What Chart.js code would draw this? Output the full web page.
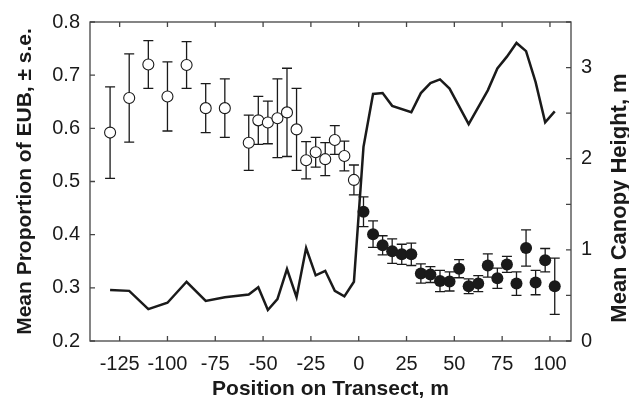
<!DOCTYPE html>
<html>
<head>
<meta charset="utf-8">
<title>EUB proportion and canopy height along transect</title>
<script src="https://cdn.jsdelivr.net/npm/chart.js@4/dist/chart.umd.min.js"></script>
<style>
  body { margin: 0; background: #fff; }
  #wrap { width: 629px; height: 402px; }
</style>
</head>
<body>
<div id="wrap"><canvas id="chart" width="629" height="402"></canvas></div>
<script>
// open circles (left of 0)
const openPos = [-130, -120, -110, -100, -90, -80, -70, -57.5, -52.5, -47.5, -42.5, -37.5, -32.5, -27.5, -22.5, -17.5, -12.5, -7.5, -2.5];
const openMean = [0.592, 0.657, 0.720, 0.660, 0.719, 0.638, 0.638, 0.573, 0.615, 0.611, 0.619, 0.630, 0.598, 0.540, 0.555, 0.542, 0.578, 0.548, 0.503];
const openSe = [0.086, 0.083, 0.045, 0.065, 0.044, 0.046, 0.055, 0.052, 0.045, 0.040, 0.074, 0.083, 0.077, 0.035, 0.028, 0.031, 0.027, 0.028, 0.028];

// filled circles (right of 0)
const filledPos = [2.5, 7.5, 12.5, 17.5, 22.5, 27.5, 32.5, 37.5, 42.5, 47.5, 52.5, 57.5, 62.5, 67.5, 72.5, 77.5, 82.5, 87.5, 92.5, 97.5, 102.5];
const filledMean = [0.443, 0.401, 0.380, 0.369, 0.363, 0.363, 0.327, 0.325, 0.313, 0.312, 0.336, 0.303, 0.308, 0.342, 0.318, 0.344, 0.308, 0.375, 0.310, 0.352, 0.303];
const filledSe = [0.028, 0.025, 0.018, 0.023, 0.019, 0.021, 0.018, 0.015, 0.020, 0.018, 0.017, 0.014, 0.015, 0.022, 0.019, 0.015, 0.022, 0.034, 0.023, 0.022, 0.053];

// canopy height line (right axis)
const heightPos = [-130, -120, -110, -100, -90, -80, -70, -57.5, -52.5, -47.5, -42.5, -37.5, -32.5, -27.5, -22.5, -17.5, -12.5, -7.5, -2.5, 2.5, 7.5, 12.5, 17.5, 27.5, 32.5, 37.5, 42.5, 47.5, 57.5, 67.5, 72.5, 77.5, 82.5, 87.5, 92.5, 97.5, 102.5];
const heights = [0.56, 0.55, 0.35, 0.42, 0.65, 0.44, 0.48, 0.51, 0.59, 0.34, 0.46, 0.79, 0.48, 1.02, 0.72, 0.77, 0.55, 0.49, 0.65, 2.13, 2.71, 2.72, 2.58, 2.51, 2.72, 2.83, 2.87, 2.77, 2.38, 2.75, 2.99, 3.12, 3.27, 3.18, 2.84, 2.40, 2.52];

// ticks
const xTicks = [-125, -100, -75, -50, -25, 0, 25, 50, 75, 100];
const leftTicks = [0.2, 0.3, 0.4, 0.5, 0.6, 0.7, 0.8];
const rightTicks = [0, 0.5, 1, 1.5, 2, 2.5, 3, 3.5];

const xTitle = "Position on Transect, m";
const leftTitle = "Mean Proportion of EUB, \u00b1 s.e.";
const rightTitle = "Mean Canopy Height, m";

const FONT = "'Liberation Sans', Arial, Helvetica, sans-serif";
const INK = "#1a1a1a";

const toPoints = (xs, ys) => xs.map((x, i) => ({ x: x, y: ys[i] }));
const setTicks = (vals) => (scale) => { scale.ticks = vals.map((v) => ({ value: v })); };

// error bars behind the markers
const errorBars = {
  id: "errorBars",
  beforeDatasetsDraw(chart) {
    const { ctx, scales: { x, y } } = chart;
    const groups = [[openPos, openMean, openSe], [filledPos, filledMean, filledSe]];
    ctx.save();
    ctx.strokeStyle = INK;
    ctx.lineWidth = 1.3;
    groups.forEach(([pos, mean, se]) => {
      pos.forEach((p, i) => {
        const px = x.getPixelForValue(p);
        const top = y.getPixelForValue(mean[i] + se[i]);
        const bot = y.getPixelForValue(mean[i] - se[i]);
        ctx.beginPath();
        ctx.moveTo(px, top); ctx.lineTo(px, bot);
        ctx.moveTo(px - 5, top); ctx.lineTo(px + 5, top);
        ctx.moveTo(px - 5, bot); ctx.lineTo(px + 5, bot);
        ctx.stroke();
      });
    });
    ctx.restore();
  }
};

// box frame with inward ticks, plus right-hand title
const frame = {
  id: "frame",
  afterDraw(chart) {
    const { ctx, chartArea: a, scales: { x, y, y1 } } = chart;
    const len = 5;
    ctx.save();
    ctx.strokeStyle = "#444";
    ctx.lineWidth = 1.3;
    ctx.strokeRect(a.left, a.top, a.right - a.left, a.bottom - a.top);
    ctx.beginPath();
    xTicks.forEach((v) => {
      const px = x.getPixelForValue(v);
      ctx.moveTo(px, a.bottom); ctx.lineTo(px, a.bottom - len);
      ctx.moveTo(px, a.top); ctx.lineTo(px, a.top + len);
    });
    leftTicks.forEach((v) => {
      const py = y.getPixelForValue(v);
      ctx.moveTo(a.left, py); ctx.lineTo(a.left + len, py);
    });
    rightTicks.forEach((v) => {
      const py = y1.getPixelForValue(v);
      ctx.moveTo(a.right, py); ctx.lineTo(a.right - len, py);
    });
    ctx.stroke();

    ctx.translate(626, 198);
    ctx.rotate(-Math.PI / 2);
    ctx.fillStyle = INK;
    ctx.font = "bold 22px " + FONT;
    ctx.textAlign = "center";
    ctx.textBaseline = "alphabetic";
    ctx.fillText(rightTitle, 0, 0);
    ctx.restore();
  }
};

const chart = new Chart(document.getElementById("chart"), {
  data: {
    datasets: [
      {
        type: "line",
        label: "Canopy height",
        data: toPoints(heightPos, heights),
        yAxisID: "y1",
        borderColor: INK,
        borderWidth: 2.5,
        pointRadius: 0,
        tension: 0,
        fill: false,
        order: 2
      },
      {
        type: "scatter",
        label: "EUB west",
        data: toPoints(openPos, openMean),
        yAxisID: "y",
        pointRadius: 5.5,
        pointBackgroundColor: "#fff",
        pointBorderColor: INK,
        pointBorderWidth: 1.1,
        order: 1
      },
      {
        type: "scatter",
        label: "EUB east",
        data: toPoints(filledPos, filledMean),
        yAxisID: "y",
        pointRadius: 6,
        pointBackgroundColor: INK,
        pointBorderColor: INK,
        pointBorderWidth: 0,
        order: 1
      }
    ]
  },
  options: {
    responsive: false,
    animation: false,
    devicePixelRatio: 1,
    layout: { padding: { top: 22, left: 0, right: 0, bottom: 0 } },
    plugins: { legend: { display: false }, tooltip: { enabled: false } },
    scales: {
      x: {
        type: "linear",
        position: "bottom",
        min: -140.5,
        max: 111,
        afterBuildTicks: setTicks(xTicks),
        afterFit: (s) => { s.height = 61; },
        grid: { display: false, drawTicks: false },
        border: { display: false },
        ticks: {
          padding: 11,
          color: INK,
          font: { family: FONT, size: 20 },
          callback: (v) => String(v)
        },
        title: {
          display: true,
          text: xTitle,
          color: INK,
          font: { family: FONT, size: 21, weight: "bold" },
          padding: { top: 0, bottom: 0 }
        }
      },
      y: {
        type: "linear",
        position: "left",
        min: 0.2,
        max: 0.8,
        afterBuildTicks: setTicks(leftTicks),
        afterFit: (s) => { s.width = 90; },
        grid: { display: false, drawTicks: false },
        border: { display: false },
        ticks: {
          padding: 10,
          color: INK,
          font: { family: FONT, size: 20 },
          callback: (v) => v.toFixed(1)
        },
        title: {
          display: true,
          text: leftTitle,
          color: INK,
          font: { family: FONT, size: 21, weight: "bold" },
          padding: { top: 13, bottom: 0 }
        }
      },
      y1: {
        type: "linear",
        position: "right",
        min: 0,
        max: 3.5,
        afterBuildTicks: setTicks(rightTicks),
        afterFit: (s) => { s.width = 58; },
        grid: { display: false, drawTicks: false },
        border: { display: false },
        ticks: {
          padding: 10,
          color: INK,
          font: { family: FONT, size: 20 },
          callback: (v) => (Number.isInteger(v) && v <= 3 ? String(v) : "")
        }
      }
    }
  },
  plugins: [errorBars, frame]
});
</script>
</body>
</html>
